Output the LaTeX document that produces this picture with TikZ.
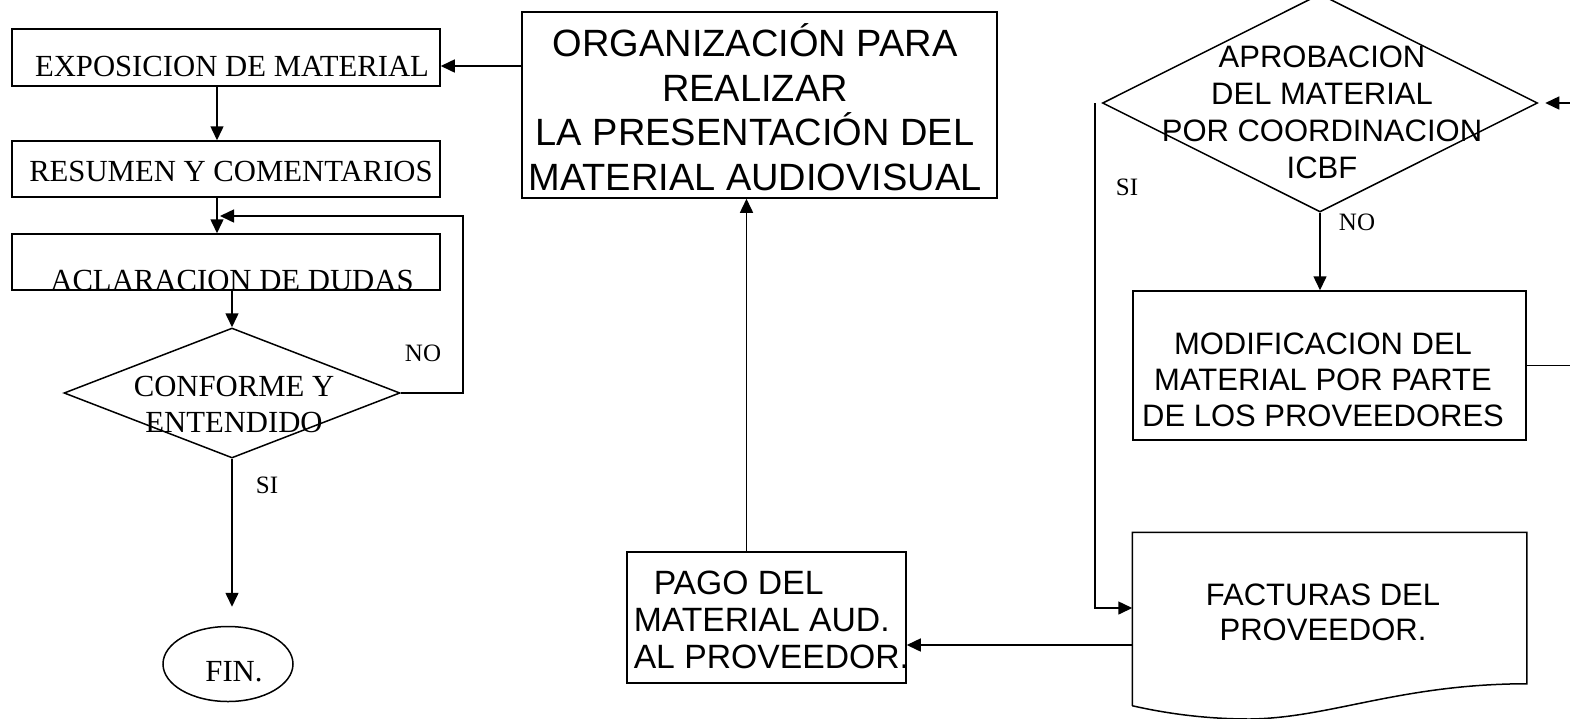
\documentclass[tikz,border=0pt]{standalone}
\usepackage{fontspec}
\setmainfont{Liberation Serif}
\newfontfamily\arialfont{Liberation Sans}
\usetikzlibrary{shapes.geometric,arrows.meta}

\begin{document}
\begin{tikzpicture}[x=1pt, y=-1pt, line width=1.5pt]
\tikzset{
  box/.style={draw, inner sep=0pt},
  choice/.style={draw, diamond, inner sep=0pt},
  serif/.style={font=\fontsize{30.7}{36}\selectfont, align=center, inner sep=0pt},
  sans/.style={font=\arialfont\fontsize{31}{36}\selectfont, align=center, inner sep=0pt},
  answer/.style={font=\fontsize{25}{28}\selectfont, inner sep=0pt},
  arr/.style={-{Triangle[length=14pt, width=13pt]}}
}
\useasboundingbox (0,0) rectangle (1570,718);
\clip (0,0) rectangle (1570,718);

% left column
\node[box, minimum width=428, minimum height=57] (expo) at (226,57.5) {};
\node[serif] (expotext) at (232,66) {EXPOSICION DE MATERIAL};
\node[box, minimum width=428, minimum height=56] (resu) at (226,169) {};
\node[serif] (resutext) at (231,171) {RESUMEN Y COMENTARIOS};
\node[box, minimum width=428, minimum height=56] (acla) at (226,262) {};
\node[serif] (aclatext) at (232,280) {ACLARACION DE DUDAS};
\node[choice, minimum width=336, minimum height=130] (conf) at (232,393) {};
\node[serif] (conftext) at (234,404) {CONFORME Y\\ENTENDIDO};
\node[draw, ellipse, minimum width=130, minimum height=75] (fin) at (228,664) {};
\node[serif] (fintext) at (234,672) {FIN.};

% middle
\node[box, minimum width=475, minimum height=186] (orga) at (759.5,105) {};
\node[sans, font=\arialfont\fontsize{38}{44.5}\selectfont] (orgatext) at (755,107)
  {ORGANIZACIÓN PARA\\REALIZAR\\LA PRESENTACIÓN DEL\\MATERIAL AUDIOVISUAL};
\node[box, minimum width=279, minimum height=131] (pago) at (766.5,617.5) {};
\node[sans, font=\arialfont\fontsize{33.7}{37}\selectfont, align=left, anchor=west] (pagotext) at (633,620)
  {\hspace*{20pt}PAGO DEL\\MATERIAL AUD.\\AL PROVEEDOR.};

% right column
\node[choice, minimum width=435, minimum height=218] (apro) at (1320,103) {};
\node[sans, font=\arialfont\fontsize{31}{37}\selectfont] (aprotext) at (1322,112)
  {APROBACION\\DEL MATERIAL\\POR COORDINACION\\ICBF};
\node[box, minimum width=393, minimum height=149] (modi) at (1329.5,365.5) {};
\node[sans] (moditext) at (1323,380) {MODIFICACION DEL\\MATERIAL POR PARTE\\DE LOS PROVEEDORES};
\node[minimum width=393, minimum height=172, inner sep=0pt] (fact) at (1329.5,619) {};
\draw (fact.south west) -- (fact.north west) -- (fact.north east) -- ([yshift=22pt]fact.south east)
  .. controls (1400,684) and (1330,718) .. (1250,719)
  .. controls (1200,719) and (1160,712) .. (fact.south west);
\node[sans, font=\arialfont\fontsize{31}{35}\selectfont] (facttext) at (1323,612.5) {FACTURAS DEL\\PROVEEDOR.};

% answers
\node[answer] (no1) at (423,353) {NO};
\node[answer] (si1) at (267,485) {SI};
\node[answer] (si2) at (1127,187) {SI};
\node[answer] (no2) at (1357,222) {NO};

% connectors
\coordinate (back) at (220,216);
\coordinate (rim) at (1590,0);
\draw[arr] ([yshift=-8.5pt]expo.east -| orga.west) -- ([yshift=-8.5pt]expo.east);
\draw[arr] ([xshift=-9pt]expo.south) -- ([xshift=-9pt]resu.north);
\draw[arr] ([xshift=-9pt]resu.south) -- ([xshift=-9pt]acla.north);
\draw[arr] (conf.east) -- ++(62,0) |- (back);
\draw[arr] (acla.south -| conf.north) -- (conf.north);
\draw[arr, shorten >=19pt] (conf.south) -- (conf.south |- fin.north);
\draw[arr] ([xshift=-20pt]pago.north) -- ([xshift=-20pt]pago.north |- orga.south);
\draw[arr] ([yshift=-26pt]fact.west) -- ([yshift=-26pt]fact.west -| pago.east);
\draw[arr] ([xshift=-7pt]apro.west) |- ([yshift=11pt]fact.west);
\draw[arr] (apro.south) -- (modi.north -| apro.south);
\draw[arr, shorten >=7pt] (modi.east) -- (modi.east -| rim) |- (apro.east);
\end{tikzpicture}
\end{document}
